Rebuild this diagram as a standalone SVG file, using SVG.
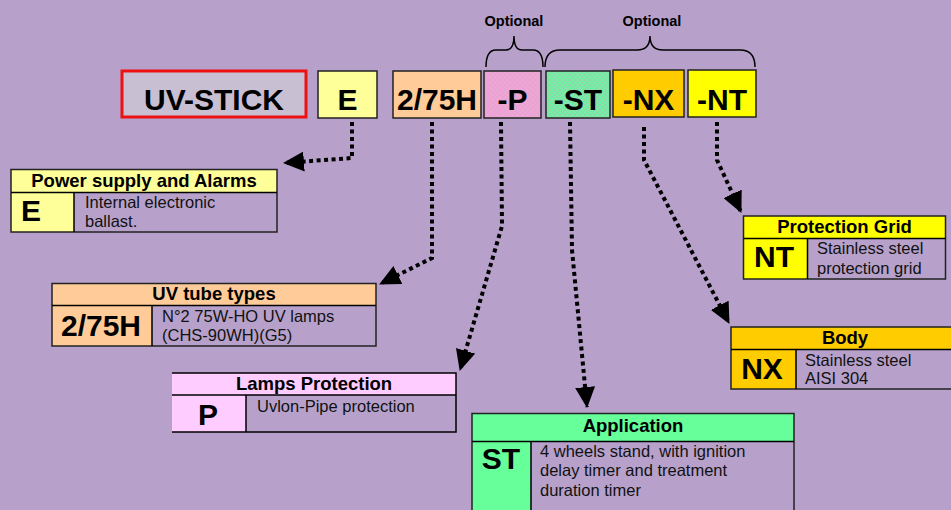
<svg xmlns="http://www.w3.org/2000/svg" width="951" height="510" viewBox="0 0 951 510">
<defs>
<style>
.bg{fill:#B7A1CB}
.box{stroke:#222;stroke-width:1.5}
.code{font-family:"Liberation Sans",Arial,sans-serif;font-weight:bold;font-size:30px;fill:#000;text-anchor:middle}
.opt{font-family:"Liberation Sans",Arial,sans-serif;font-weight:bold;font-size:14.5px;fill:#000;text-anchor:middle}
.hdr{font-family:"Liberation Sans",Arial,sans-serif;font-weight:bold;font-size:18.5px;fill:#000;text-anchor:middle}
.big{font-family:"Liberation Sans",Arial,sans-serif;font-weight:bold;font-size:30px;fill:#000;text-anchor:middle}
.desc{font-family:"Liberation Sans",Arial,sans-serif;font-size:16.5px;fill:#111}
.line{fill:none;stroke:#000;stroke-width:1.5}
.conn{fill:none;stroke:#000;stroke-width:4;stroke-dasharray:4 3.5}
</style>
<pattern id="pp" width="5" height="5" patternUnits="userSpaceOnUse">
<rect width="5" height="5" fill="#F2A4D8"/>
<path d="M0,0 L5,5 M5,0 L0,5" stroke="#D8A6C8" stroke-width="0.7"/>
</pattern>
<pattern id="pst" width="5" height="5" patternUnits="userSpaceOnUse">
<rect width="5" height="5" fill="#74F0A4"/>
<path d="M0,0 L5,5 M5,0 L0,5" stroke="#9CC8B0" stroke-width="0.7"/>
</pattern>
<marker id="ah" markerUnits="userSpaceOnUse" markerWidth="21" markerHeight="20" refX="20" refY="10" orient="auto">
<path d="M0,0 L21,10 L0,20 Z" fill="#000"/>
</marker>
</defs>
<rect class="bg" x="0" y="0" width="951" height="510"/>

<g id="optional-labels">
<text class="opt" x="514" y="26">Optional</text>
<text class="opt" x="652" y="26">Optional</text>
<path class="line" d="M486,67 Q486,50 496,50 L506,50 Q514,50 514,36 Q514,50 522,50 L533,50 Q543,50 543,67"/>
<path class="line" d="M545,67 Q545,50 560,50 L637,50 Q650,50 650,36 Q650,50 663,50 L740,50 Q755,50 755,67"/>
</g>

<g id="code-uvstick">
<rect x="122" y="71" width="184" height="46" fill="#C9BFD2" stroke="#EE1111" stroke-width="3"/>
<text class="code" x="214" y="110">UV-STICK</text>
</g>
<g id="code-e">
<rect class="box" x="318" y="71" width="59" height="47" fill="#FFFF99"/>
<text class="code" x="347.5" y="110">E</text>
</g>
<g id="code-275h">
<rect class="box" x="393" y="71" width="88" height="47" fill="#FFCC99"/>
<text class="code" x="437" y="110">2/75H</text>
</g>
<g id="code-p">
<rect class="box" x="484" y="71" width="57" height="47" fill="url(#pp)"/>
<text class="code" x="512.5" y="110">-P</text>
</g>
<g id="code-st">
<rect class="box" x="546" y="71" width="64" height="47" fill="url(#pst)"/>
<text class="code" x="578" y="110">-ST</text>
</g>
<g id="code-nx">
<rect class="box" x="613" y="70" width="71" height="47" fill="#FFCC00"/>
<text class="code" x="648.5" y="110">-NX</text>
</g>
<g id="code-nt">
<rect class="box" x="688" y="70" width="68" height="47" fill="#FFFF00"/>
<text class="code" x="722" y="110">-NT</text>
</g>

<g id="connectors">
<path class="conn" d="M352,122 L352,158 L284,163" marker-end="url(#ah)"/>
<path class="conn" d="M432,122 L432,258 L380,284" marker-end="url(#ah)"/>
<path class="conn" d="M501,122 L502,226 L460,370" marker-end="url(#ah)"/>
<path class="conn" d="M570,122 L572,250 L587,407" marker-end="url(#ah)"/>
<path class="conn" d="M644,127 L644,160 L729,323" marker-end="url(#ah)"/>
<path class="conn" d="M717,122 L717,160 L741,212" marker-end="url(#ah)"/>
</g>

<g id="box-power">
<rect x="11" y="169.5" width="266" height="23" fill="#FFFF99"/>
<rect x="11" y="192.5" width="63" height="39.5" fill="#FFFF99"/>
<rect class="box" x="11" y="169.5" width="266" height="62.5" fill="none"/>
<path class="line" d="M11,192.5 H277 M74,192.5 V232"/>
<text class="hdr" x="144" y="187">Power supply and Alarms</text>
<text class="big" x="31" y="221">E</text>
<text class="desc" x="85" y="208">Internal electronic</text>
<text class="desc" x="85" y="227">ballast.</text>
</g>

<g id="box-tube">
<rect x="52" y="283.5" width="324" height="22" fill="#FFCC99"/>
<rect x="52" y="305.5" width="100" height="40.5" fill="#FFCC99"/>
<rect class="box" x="52" y="283.5" width="324" height="62.5" fill="none"/>
<path class="line" d="M52,305.5 H376 M152,305.5 V346"/>
<text class="hdr" x="214" y="300">UV tube types</text>
<text class="big" x="101" y="336">2/75H</text>
<text class="desc" x="162" y="322">N°2 75W-HO UV lamps</text>
<text class="desc" x="162" y="341">(CHS-90WH)(G5)</text>
</g>

<g id="box-lamps">
<rect x="172" y="373" width="284" height="22" fill="#FFCCFF"/>
<rect x="172" y="395" width="74" height="37" fill="#FFCCFF"/>
<path class="line" d="M172,373 H456 V432 H172 M172,395 H456 M246,395 V432"/>
<text class="hdr" x="314" y="390">Lamps Protection</text>
<text class="big" x="208" y="425">P</text>
<text class="desc" x="257" y="412">Uvlon-Pipe protection</text>
</g>

<g id="box-application">
<rect x="472" y="413.5" width="322" height="28" fill="#66FF99"/>
<rect x="472" y="441.5" width="59" height="80" fill="#66FF99"/>
<rect class="box" x="472" y="413.5" width="322" height="110" fill="none"/>
<path class="line" d="M472,441.5 H794 M531,441.5 V520"/>
<text class="hdr" x="633" y="432">Application</text>
<text class="big" x="501" y="469">ST</text>
<text class="desc" x="540" y="457">4 wheels stand, with ignition</text>
<text class="desc" x="540" y="476">delay timer and treatment</text>
<text class="desc" x="540" y="496">duration timer</text>
</g>

<g id="box-grid">
<rect x="743.5" y="216" width="202" height="22.5" fill="#FFFF00"/>
<rect x="743.5" y="238.5" width="64" height="40.5" fill="#FFFF00"/>
<rect class="box" x="743.5" y="216" width="202" height="63" fill="none"/>
<path class="line" d="M743.5,238.5 H945.5 M807.5,238.5 V279"/>
<text class="hdr" x="844.5" y="233">Protection Grid</text>
<text class="big" x="774" y="267">NT</text>
<text class="desc" x="817" y="254">Stainless steel</text>
<text class="desc" x="817" y="274">protection grid</text>
</g>

<g id="box-body">
<rect x="731" y="327" width="230" height="22.5" fill="#FFCC00"/>
<rect x="731" y="349.5" width="65" height="39.5" fill="#FFCC00"/>
<rect class="box" x="731" y="327" width="230" height="62" fill="none"/>
<path class="line" d="M731,349.5 H961 M796,349.5 V389"/>
<text class="hdr" x="845" y="344">Body</text>
<text class="big" x="762" y="379">NX</text>
<text class="desc" x="805" y="366">Stainless steel</text>
<text class="desc" x="805" y="384">AISI 304</text>
</g>
</svg>
